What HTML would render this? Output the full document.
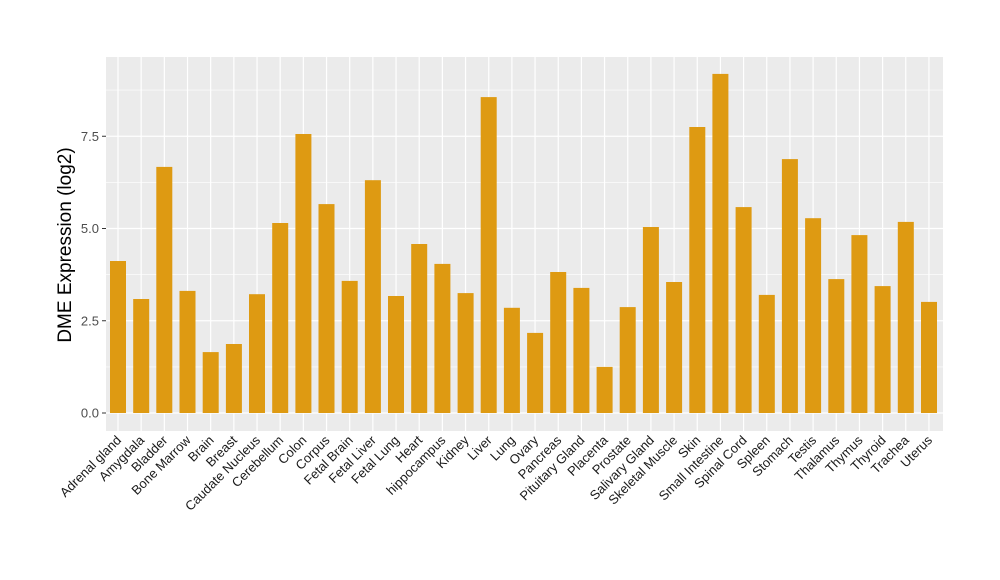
<!DOCTYPE html>
<html><head><meta charset="utf-8"><style>body{margin:0;background:#fff}svg{display:block}</style></head>
<body>
<svg width="1000" height="580" xmlns="http://www.w3.org/2000/svg" font-family="Liberation Sans, sans-serif">
<rect x="0" y="0" width="1000" height="580" fill="#fff"/>
<rect x="106" y="57" width="837" height="374" fill="#EBEBEB"/>
<g stroke="#fff" stroke-width="0.6">
<line x1="106" x2="943" y1="366.9" y2="366.9"/><line x1="106" x2="943" y1="274.6" y2="274.6"/><line x1="106" x2="943" y1="182.4" y2="182.4"/><line x1="106" x2="943" y1="90.1" y2="90.1"/>
</g>
<g stroke="#fff" stroke-width="1.2">
<line x1="106" x2="943" y1="413" y2="413"/><line x1="106" x2="943" y1="320.75" y2="320.75"/><line x1="106" x2="943" y1="228.5" y2="228.5"/><line x1="106" x2="943" y1="136.25" y2="136.25"/>
<line x1="118" x2="118" y1="57" y2="431"/><line x1="141.17" x2="141.17" y1="57" y2="431"/><line x1="164.34" x2="164.34" y1="57" y2="431"/><line x1="187.51" x2="187.51" y1="57" y2="431"/><line x1="210.68" x2="210.68" y1="57" y2="431"/><line x1="233.85" x2="233.85" y1="57" y2="431"/><line x1="257.02" x2="257.02" y1="57" y2="431"/><line x1="280.19" x2="280.19" y1="57" y2="431"/><line x1="303.36" x2="303.36" y1="57" y2="431"/><line x1="326.53" x2="326.53" y1="57" y2="431"/><line x1="349.7" x2="349.7" y1="57" y2="431"/><line x1="372.87" x2="372.87" y1="57" y2="431"/><line x1="396.04" x2="396.04" y1="57" y2="431"/><line x1="419.21" x2="419.21" y1="57" y2="431"/><line x1="442.38" x2="442.38" y1="57" y2="431"/><line x1="465.55" x2="465.55" y1="57" y2="431"/><line x1="488.72" x2="488.72" y1="57" y2="431"/><line x1="511.89" x2="511.89" y1="57" y2="431"/><line x1="535.06" x2="535.06" y1="57" y2="431"/><line x1="558.23" x2="558.23" y1="57" y2="431"/><line x1="581.4" x2="581.4" y1="57" y2="431"/><line x1="604.57" x2="604.57" y1="57" y2="431"/><line x1="627.74" x2="627.74" y1="57" y2="431"/><line x1="650.91" x2="650.91" y1="57" y2="431"/><line x1="674.08" x2="674.08" y1="57" y2="431"/><line x1="697.25" x2="697.25" y1="57" y2="431"/><line x1="720.42" x2="720.42" y1="57" y2="431"/><line x1="743.59" x2="743.59" y1="57" y2="431"/><line x1="766.76" x2="766.76" y1="57" y2="431"/><line x1="789.93" x2="789.93" y1="57" y2="431"/><line x1="813.1" x2="813.1" y1="57" y2="431"/><line x1="836.27" x2="836.27" y1="57" y2="431"/><line x1="859.44" x2="859.44" y1="57" y2="431"/><line x1="882.61" x2="882.61" y1="57" y2="431"/><line x1="905.78" x2="905.78" y1="57" y2="431"/><line x1="928.95" x2="928.95" y1="57" y2="431"/>
</g>
<g fill="#DE9A12">
<rect x="110" y="261" width="16" height="152"/>
<rect x="133.2" y="299" width="16" height="114"/>
<rect x="156.3" y="166.9" width="16" height="246.1"/>
<rect x="179.5" y="290.9" width="16" height="122.1"/>
<rect x="202.7" y="352.1" width="16" height="60.9"/>
<rect x="225.9" y="344" width="16" height="69"/>
<rect x="249" y="294.2" width="16" height="118.8"/>
<rect x="272.2" y="223" width="16" height="190"/>
<rect x="295.4" y="134" width="16" height="279"/>
<rect x="318.5" y="204.1" width="16" height="208.9"/>
<rect x="341.7" y="280.9" width="16" height="132.1"/>
<rect x="364.9" y="180.2" width="16" height="232.8"/>
<rect x="388" y="296" width="16" height="117"/>
<rect x="411.2" y="244" width="16" height="169"/>
<rect x="434.4" y="263.9" width="16" height="149.1"/>
<rect x="457.6" y="293.1" width="16" height="119.9"/>
<rect x="480.7" y="97.1" width="16" height="315.9"/>
<rect x="503.9" y="307.8" width="16" height="105.2"/>
<rect x="527.1" y="332.9" width="16" height="80.1"/>
<rect x="550.2" y="272" width="16" height="141"/>
<rect x="573.4" y="287.9" width="16" height="125.1"/>
<rect x="596.6" y="366.9" width="16" height="46.1"/>
<rect x="619.7" y="307.1" width="16" height="105.9"/>
<rect x="642.9" y="227" width="16" height="186"/>
<rect x="666.1" y="282" width="16" height="131"/>
<rect x="689.3" y="127" width="16" height="286"/>
<rect x="712.4" y="73.9" width="16" height="339.1"/>
<rect x="735.6" y="207.1" width="16" height="205.9"/>
<rect x="758.8" y="294.9" width="16" height="118.1"/>
<rect x="781.9" y="159.1" width="16" height="253.9"/>
<rect x="805.1" y="218.2" width="16" height="194.8"/>
<rect x="828.3" y="279.1" width="16" height="133.9"/>
<rect x="851.4" y="235.1" width="16" height="177.9"/>
<rect x="874.6" y="286.1" width="16" height="126.9"/>
<rect x="897.8" y="221.9" width="16" height="191.1"/>
<rect x="921" y="301.9" width="16" height="111.1"/>
</g>
<g stroke="#333" stroke-width="1">
<line x1="102" x2="106" y1="413" y2="413"/><line x1="102" x2="106" y1="320.75" y2="320.75"/><line x1="102" x2="106" y1="228.5" y2="228.5"/><line x1="102" x2="106" y1="136.25" y2="136.25"/>
</g>
<g font-size="13" fill="#4D4D4D" text-anchor="end">
<text x="99" y="417.5">0.0</text><text x="99" y="325.25">2.5</text><text x="99" y="233">5.0</text><text x="99" y="140.75">7.5</text>
</g>
<g font-size="13" fill="#1a1a1a" text-anchor="end">
<text transform="translate(122,441) rotate(-45)">Adrenal gland</text>
<text transform="translate(145.17,441) rotate(-45)">Amygdala</text>
<text transform="translate(168.34,441) rotate(-45)">Bladder</text>
<text transform="translate(191.51,441) rotate(-45)">Bone Marrow</text>
<text transform="translate(214.68,441) rotate(-45)">Brain</text>
<text transform="translate(237.85,441) rotate(-45)">Breast</text>
<text transform="translate(261.02,441) rotate(-45)">Caudate Nucleus</text>
<text transform="translate(284.19,441) rotate(-45)">Cerebellum</text>
<text transform="translate(307.36,441) rotate(-45)">Colon</text>
<text transform="translate(330.53,441) rotate(-45)">Corpus</text>
<text transform="translate(353.7,441) rotate(-45)">Fetal Brain</text>
<text transform="translate(376.87,441) rotate(-45)">Fetal Liver</text>
<text transform="translate(400.04,441) rotate(-45)">Fetal Lung</text>
<text transform="translate(423.21,441) rotate(-45)">Heart</text>
<text transform="translate(446.38,441) rotate(-45)">hippocampus</text>
<text transform="translate(469.55,441) rotate(-45)">Kidney</text>
<text transform="translate(492.72,441) rotate(-45)">Liver</text>
<text transform="translate(515.89,441) rotate(-45)">Lung</text>
<text transform="translate(539.06,441) rotate(-45)">Ovary</text>
<text transform="translate(562.23,441) rotate(-45)">Pancreas</text>
<text transform="translate(585.4,441) rotate(-45)">Pituitary Gland</text>
<text transform="translate(608.57,441) rotate(-45)">Placenta</text>
<text transform="translate(631.74,441) rotate(-45)">Prostate</text>
<text transform="translate(654.91,441) rotate(-45)">Salivary Gland</text>
<text transform="translate(678.08,441) rotate(-45)">Skeletal Muscle</text>
<text transform="translate(701.25,441) rotate(-45)">Skin</text>
<text transform="translate(724.42,441) rotate(-45)">Small Intestine</text>
<text transform="translate(747.59,441) rotate(-45)">Spinal Cord</text>
<text transform="translate(770.76,441) rotate(-45)">Spleen</text>
<text transform="translate(793.93,441) rotate(-45)">Stomach</text>
<text transform="translate(817.1,441) rotate(-45)">Testis</text>
<text transform="translate(840.27,441) rotate(-45)">Thalamus</text>
<text transform="translate(863.44,441) rotate(-45)">Thymus</text>
<text transform="translate(886.61,441) rotate(-45)">Thyroid</text>
<text transform="translate(909.78,441) rotate(-45)">Trachea</text>
<text transform="translate(932.95,441) rotate(-45)">Uterus</text>
</g>
<text transform="translate(71,245) rotate(-90)" text-anchor="middle" font-size="19" fill="#000">DME Expression (log2)</text>
</svg>
</body></html>
